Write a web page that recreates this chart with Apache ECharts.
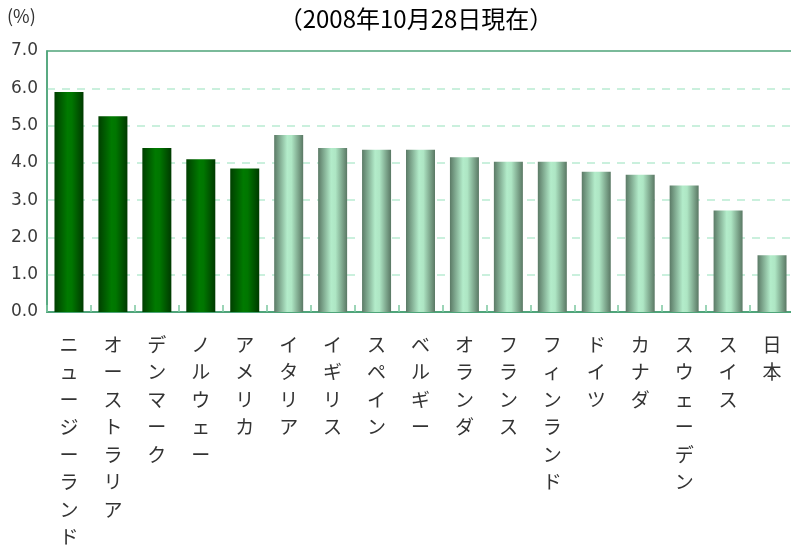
<!DOCTYPE html>
<html>
<head>
<meta charset="utf-8">
<script src="https://cdn.jsdelivr.net/npm/echarts@6/dist/echarts.min.js"></script>
<style>
html, body { margin: 0; padding: 0; background: #fff; }
#chart { width: 791px; height: 549px; }
</style>
</head>
<body>
<div id="chart"></div>
<script>
// 国名（左から順に）
var countries = ['ニュージーランド', 'オーストラリア', 'デンマーク', 'ノルウェー', 'アメリカ',
	'イタリア', 'イギリス', 'スペイン', 'ベルギー', 'オランダ', 'フランス',
	'フィンランド', 'ドイツ', 'カナダ', 'スウェーデン', 'スイス', '日本'];
// 政策金利 (%)
var rates = [5.9, 5.25, 4.4, 4.1, 3.85, 4.75, 4.4, 4.35, 4.35, 4.15, 4.03,
	4.03, 3.76, 3.68, 3.39, 2.72, 1.52];
// 濃い緑で示す国の数（先頭から）
var highlightCount = 5;
var yTicks = [0, 1, 2, 3, 4, 5, 6, 7];

var darkGreen = new echarts.graphic.LinearGradient(0, 0, 1, 0, [
	{offset: 0, color: '#003f00'},
	{offset: 0.45, color: '#007a00'},
	{offset: 0.6, color: '#007600'},
	{offset: 1, color: '#003a00'}
]);
var lightGreen = new echarts.graphic.LinearGradient(0, 0, 1, 0, [
	{offset: 0, color: '#5b7a66'},
	{offset: 0.45, color: '#b3ecca'},
	{offset: 0.6, color: '#aee6c4'},
	{offset: 1, color: '#5a7864'}
]);

var myChart = echarts.init(document.getElementById('chart'));
var option = {
	animation: false,
	textStyle: {fontFamily: '"Noto Sans CJK JP", sans-serif'},
	title: {
		text: '（2008年10月28日現在）',
		left: 411,
		textAlign: 'center',
		top: 2,
		textStyle: {fontSize: 24, fontWeight: 'normal', color: '#000'}
	},
	graphic: [{
		type: 'text',
		left: 7,
		top: 7,
		style: {text: '(%)', fontSize: 18, fill: '#333', fontFamily: '"Noto Sans CJK JP", sans-serif'}
	}],
	grid: {
		left: 47,
		right: -3,
		top: 51,
		bottom: 237,
		outerBoundsMode: 'none',
		containLabel: false,
		show: true,
		borderColor: '#4fa47a',
		borderWidth: 1.5
	},
	xAxis: {
		type: 'category',
		data: countries,
		axisLine: {lineStyle: {color: '#4fa47a', width: 2}},
		axisTick: {show: true, inside: true, length: 7, lineStyle: {color: '#7cc8a0', width: 1.5}},
		axisLabel: {
			interval: 0,
			margin: 19,
			fontSize: 19,
			lineHeight: 27.5,
			color: '#333',
			verticalAlign: 'top',
			formatter: function(v) {
				return v.split('').join('\n');
			}
		}
	},
	yAxis: {
		type: 'value',
		min: 0,
		max: 7,
		interval: 1,
		axisLine: {show: true, lineStyle: {color: '#4fa47a', width: 1.5}},
		axisTick: {show: false},
		axisLabel: {
			margin: 9,
			fontSize: 17,
			color: '#3a3a3a',
			fontFamily: '"DejaVu Sans", sans-serif',
			formatter: function(v) { return yTicks.indexOf(v) >= 0 ? v.toFixed(1) : ''; }
		},
		splitLine: {
			show: true,
			showMinLine: false,
			showMaxLine: false,
			lineStyle: {color: '#b9ecd2', type: [8, 7], width: 1.5}
		}
	},
	series: [{
		type: 'bar',
		data: rates,
		barWidth: 29,
		itemStyle: {
			color: function(p) {
				return p.dataIndex < highlightCount ? darkGreen : lightGreen;
			}
		}
	}]
};
myChart.setOption(option);
</script>
</body>
</html>
